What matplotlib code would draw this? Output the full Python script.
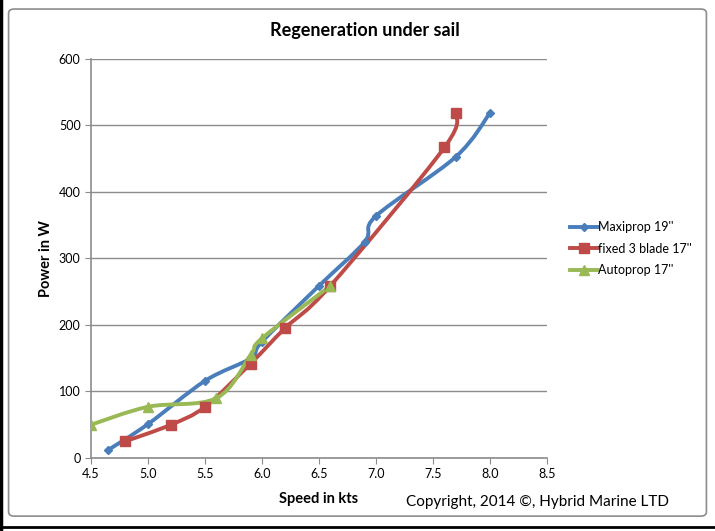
import numpy as np
import matplotlib.pyplot as plt
from matplotlib.path import Path
from matplotlib.patches import PathPatch, FancyBboxPatch
from matplotlib.lines import Line2D

plt.rcParams['font.family'] = ['Lato', 'DejaVu Sans']

# Data
maxi_x = [4.65, 5.0, 5.5, 5.9, 6.0, 6.5, 6.9, 7.0, 7.7, 8.0]
maxi_y = [12, 51, 116, 150, 175, 259, 325, 364, 453, 519]
fixed_x = [4.8, 5.2, 5.5, 5.9, 6.2, 6.6, 7.6, 7.7]
fixed_y = [25, 50, 77, 142, 195, 259, 467, 519]
auto_x = [4.5, 5.0, 5.6, 5.9, 6.0, 6.6]
auto_y = [50, 77, 90, 155, 180, 259]

labels = ["Maxiprop 19''", "fixed 3 blade 17''", "Autoprop 17''"]
colors = ['#4A7EBB', '#BE4B48', '#98B954']
markers = ['D', 's', '^']
msizes = [4.5, 7, 7]

xlim = (4.5, 8.5)
ylim = (0, 600)


def smooth_path(xs, ys):
    # Excel-style smoothed line: cubic Bezier segments through the points
    sx = xlim[1] - xlim[0]
    sy = ylim[1] - ylim[0]
    p = np.column_stack([(np.array(xs) - xlim[0]) / sx, np.array(ys) / sy])
    n = len(p)
    verts = [p[0]]
    codes = [Path.MOVETO]
    for i in range(n - 1):
        p0 = p[i - 1] if i > 0 else p[i]
        p1, p2 = p[i], p[i + 1]
        p3 = p[i + 2] if i + 2 < n else p[i + 1]
        c1 = p1 + (p2 - p0) / 6.0
        c2 = p2 - (p3 - p1) / 6.0
        verts += [c1, c2, p2]
        codes += [Path.CURVE4] * 3
    v = np.array(verts)
    v[:, 0] = v[:, 0] * sx + xlim[0]
    v[:, 1] = v[:, 1] * sy + ylim[0]
    return Path(v, codes)


fig = plt.figure(figsize=(7.15, 5.31), dpi=100)
ax = fig.add_axes([0.1273, 0.1375, 0.6378, 0.7514])

series = [(maxi_x, maxi_y), (fixed_x, fixed_y), (auto_x, auto_y)]
handles = []
for (xs, ys), c, m, ms, lab in zip(series, colors, markers, msizes, labels):
    ax.add_patch(PathPatch(smooth_path(xs, ys), facecolor='none',
                           edgecolor=c, lw=2.8, zorder=3, capstyle='round'))
    ax.plot(xs, ys, linestyle='none', marker=m, color=c, markersize=ms, zorder=4)
    handles.append(Line2D([], [], color=c, lw=2.8, marker=m, markersize=ms))

ax.set_xlim(*xlim)
ax.set_ylim(*ylim)
ax.set_xticks(np.arange(4.5, 8.51, 0.5))
ax.set_xticklabels([f'{v:.1f}' for v in np.arange(4.5, 8.51, 0.5)])
ax.set_yticks(range(0, 601, 100))
ax.yaxis.grid(True, color='#8C8C8C', lw=1)
ax.set_axisbelow(True)
for s in ['top', 'right']:
    ax.spines[s].set_visible(False)
for s in ['left', 'bottom']:
    ax.spines[s].set_color('#8C8C8C')
    ax.spines[s].set_linewidth(1.2)
ax.tick_params(colors='#8C8C8C', labelcolor='black', labelsize=9, length=4)

ax.set_xlabel('Speed in kts', fontsize=10.5, fontweight='bold', labelpad=8)
ax.set_ylabel('Power in W', fontsize=10.5, fontweight='bold', labelpad=4)
fig.text(0.511, 0.943, 'Regeneration under sail', fontsize=13, fontweight='bold',
         ha='center', va='center')
fig.text(0.752, 0.054, 'Copyright, 2014 \u00a9, Hybrid Marine LTD', fontsize=11,
         ha='center', va='center')

fig.legend(handles, labels, loc='center left', bbox_to_anchor=(0.782, 0.532),
           frameon=False, fontsize=9, handlelength=2.2, handletextpad=0.0,
           labelspacing=0.75)

# chart frame
fig.patches.append(FancyBboxPatch((0.012, 0.028), 0.976, 0.955,
                                  boxstyle='round,pad=0,rounding_size=0.008',
                                  transform=fig.transFigure, facecolor='none',
                                  edgecolor='#8C8C8C', lw=1.2))
fig.lines.append(Line2D([0.002, 0.002], [0.0, 1.0], transform=fig.transFigure,
                        color='black', lw=2.5))
fig.lines.append(Line2D([0.0, 1.0], [0.008, 0.008], transform=fig.transFigure,
                        color='black', lw=2.0))

fig.savefig('out.png', dpi=100)
